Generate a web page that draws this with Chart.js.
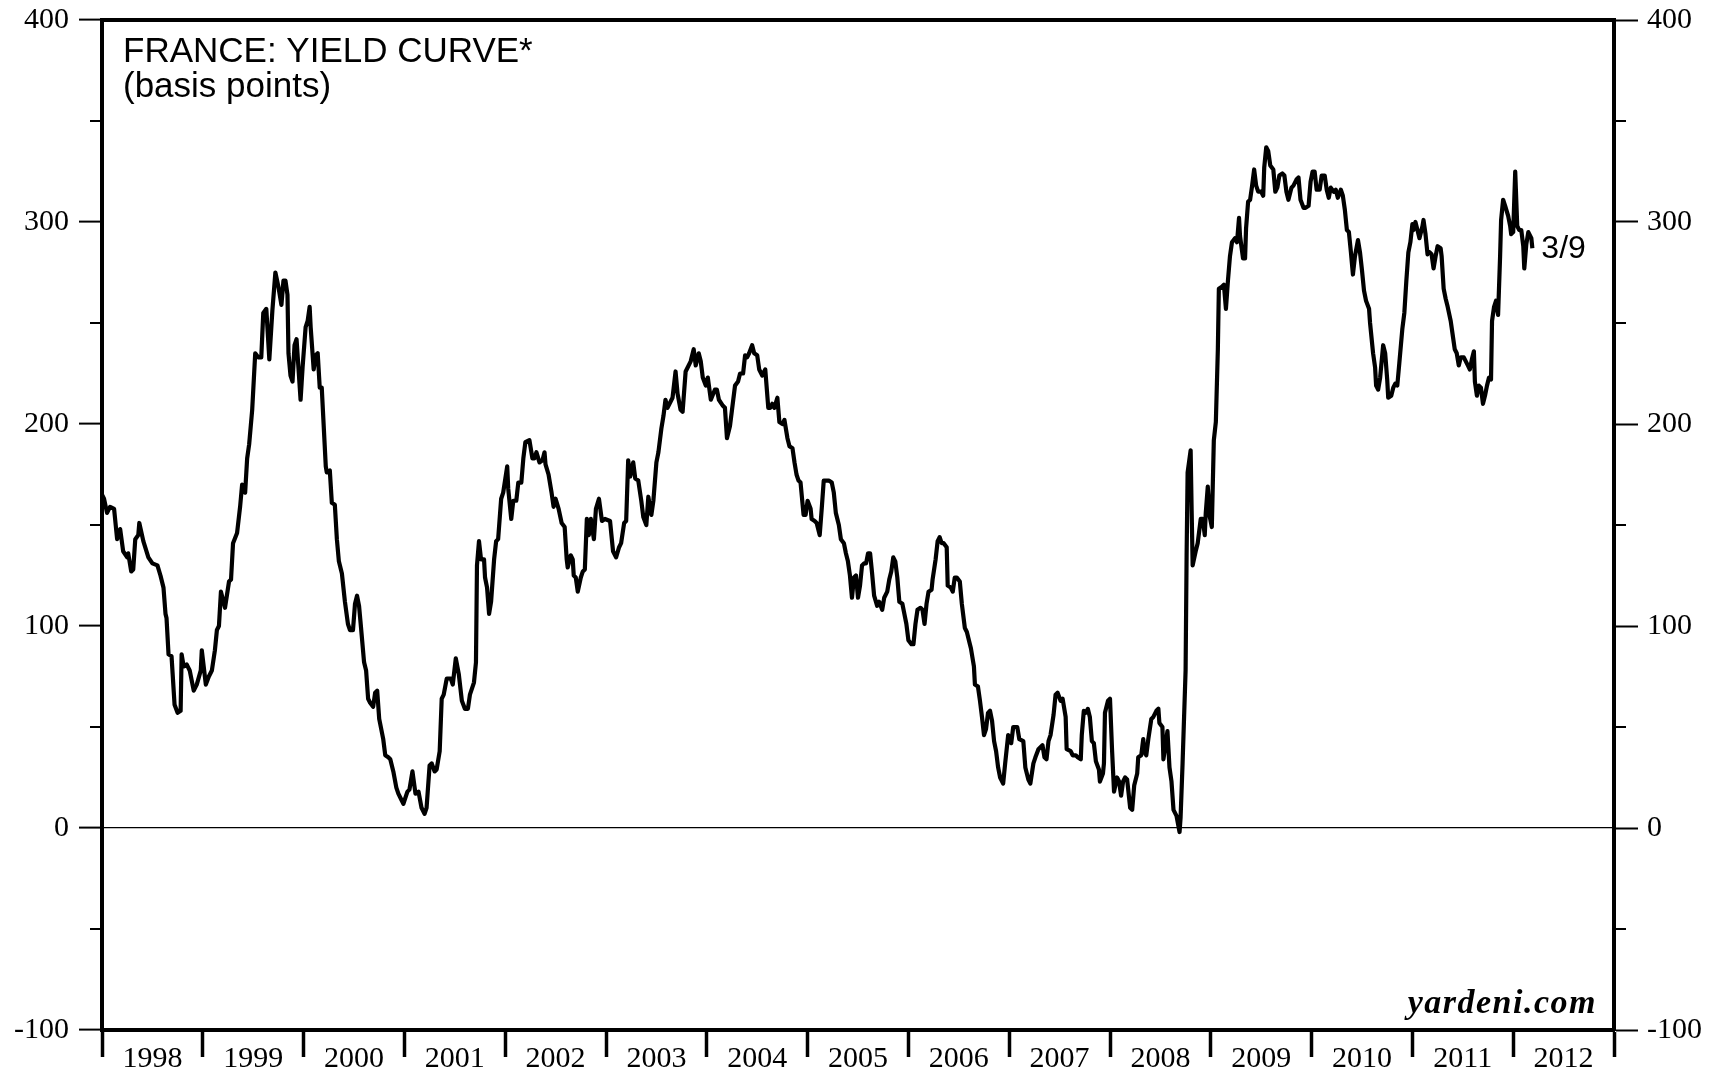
<!DOCTYPE html>
<html>
<head>
<meta charset="utf-8">
<title>France: Yield Curve</title>
<script src="https://cdn.jsdelivr.net/npm/chart.js@4.4.1/dist/chart.umd.min.js"></script>
<style>
  html, body { margin: 0; padding: 0; background: #fff; }
  #wrap { width: 1715px; height: 1076px; position: relative; }
</style>
</head>
<body>
<div id="wrap"><canvas id="chart"></canvas></div>
<script>
// year labels on the x axis
const years = [1998, 1999, 2000, 2001, 2002, 2003, 2004, 2005, 2006, 2007, 2008, 2009, 2010, 2011, 2012];

const dates = [
  1998.00,1998.02,1998.05,1998.08,1998.12,1998.15,1998.18,1998.21,1998.25,1998.26,1998.29,1998.31,1998.33,1998.36,1998.37,1998.41,1998.46,1998.50,1998.55,1998.58,1998.61,1998.63,1998.64,1998.66,1998.69,1998.72,1998.75,1998.78,1998.79,1998.81,1998.84,1998.87,1998.91,1998.94,1998.98,1998.99,
  1999.03,1999.06,1999.09,1999.12,1999.14,1999.16,1999.18,1999.22,1999.26,1999.28,1999.30,1999.34,1999.37,1999.39,1999.42,1999.44,1999.46,1999.49,1999.52,1999.55,1999.58,1999.60,1999.63,1999.66,1999.69,1999.72,1999.75,1999.78,1999.80,1999.82,1999.84,1999.85,1999.87,1999.89,1999.91,1999.93,1999.97,1999.99,
  2000.02,2000.04,2000.06,2000.07,2000.10,2000.12,2000.14,2000.16,2000.18,2000.22,2000.23,2000.26,2000.28,2000.31,2000.33,2000.35,2000.38,2000.41,2000.44,2000.46,2000.49,2000.51,2000.53,2000.55,2000.57,2000.60,2000.62,2000.64,2000.66,2000.69,2000.71,2000.73,2000.75,2000.79,2000.81,2000.84,2000.86,2000.89,2000.92,2000.94,2000.97,2000.99,
  2001.03,2001.05,2001.08,2001.11,2001.14,2001.17,2001.20,2001.22,2001.25,2001.27,2001.30,2001.32,2001.35,2001.37,2001.39,2001.42,2001.46,2001.48,2001.51,2001.54,2001.57,2001.60,2001.63,2001.65,2001.69,2001.71,2001.72,2001.74,2001.76,2001.79,2001.80,2001.82,2001.84,2001.86,2001.89,2001.91,2001.93,2001.96,2001.98,
  2002.02,2002.03,2002.06,2002.08,2002.11,2002.13,2002.16,2002.18,2002.20,2002.24,2002.27,2002.29,2002.31,2002.34,2002.37,2002.39,2002.40,2002.43,2002.46,2002.48,2002.50,2002.53,2002.56,2002.59,2002.61,2002.62,2002.65,2002.67,2002.68,2002.70,2002.72,2002.75,2002.77,2002.79,2002.81,2002.83,2002.85,2002.88,2002.90,2002.93,2002.96,2002.99,
  2003.04,2003.07,2003.10,2003.13,2003.15,2003.18,2003.20,2003.22,2003.24,2003.27,2003.29,2003.32,2003.35,2003.37,2003.40,2003.42,2003.45,2003.47,2003.50,2003.52,2003.55,2003.57,2003.59,2003.61,2003.64,2003.66,2003.69,2003.71,2003.74,2003.76,2003.79,2003.81,2003.84,2003.87,2003.89,2003.92,2003.94,2003.96,2003.99,
  2004.01,2004.04,2004.08,2004.10,2004.12,2004.16,2004.18,2004.20,2004.23,2004.26,2004.28,2004.31,2004.33,2004.36,2004.38,2004.40,2004.42,2004.45,2004.47,2004.50,2004.52,2004.55,2004.58,2004.61,2004.63,2004.65,2004.67,2004.70,2004.72,2004.75,2004.77,2004.80,2004.82,2004.85,2004.87,2004.89,2004.91,2004.93,2004.96,2004.98,
  2005.00,2005.03,2005.04,2005.07,2005.09,2005.12,2005.14,2005.16,2005.18,2005.21,2005.24,2005.26,2005.28,2005.31,2005.33,2005.36,2005.38,2005.40,2005.42,2005.44,2005.46,2005.48,2005.50,2005.52,2005.54,2005.56,2005.58,2005.60,2005.62,2005.64,2005.66,2005.69,2005.71,2005.74,2005.76,2005.79,2005.81,2005.83,2005.85,2005.87,2005.89,2005.91,2005.94,2005.96,2005.98,
  2006.00,2006.03,2006.05,2006.07,2006.09,2006.12,2006.14,2006.16,2006.18,2006.20,2006.23,2006.24,2006.27,2006.29,2006.31,2006.33,2006.35,2006.38,2006.39,2006.42,2006.44,2006.46,2006.48,2006.51,2006.53,2006.56,2006.58,2006.61,2006.62,2006.65,2006.66,2006.69,2006.71,2006.73,2006.75,2006.77,2006.79,2006.81,2006.83,2006.85,2006.87,2006.89,2006.91,2006.94,2006.96,2006.99,
  2007.02,2007.04,2007.08,2007.10,2007.14,2007.16,2007.19,2007.21,2007.24,2007.26,2007.29,2007.33,2007.35,2007.37,2007.39,2007.41,2007.44,2007.46,2007.48,2007.51,2007.53,2007.56,2007.57,2007.61,2007.63,2007.66,2007.68,2007.71,2007.72,2007.74,2007.76,2007.78,2007.80,2007.82,2007.84,2007.86,2007.89,2007.90,2007.93,2007.94,2007.95,2007.98,
  2008.00,2008.02,2008.04,2008.07,2008.09,2008.11,2008.13,2008.15,2008.17,2008.20,2008.22,2008.24,2008.27,2008.28,2008.31,2008.33,2008.34,2008.36,2008.38,2008.41,2008.43,2008.46,2008.48,2008.49,2008.52,2008.53,2008.55,2008.57,2008.59,2008.61,2008.63,2008.65,2008.66,2008.69,2008.70,2008.72,2008.75,2008.76,2008.77,2008.80,2008.81,2008.82,2008.85,2008.87,2008.90,2008.92,2008.94,2008.95,2008.97,2008.99,
  2009.01,2009.03,2009.05,2009.07,2009.08,2009.11,2009.13,2009.15,2009.17,2009.19,2009.21,2009.24,2009.26,2009.28,2009.29,2009.32,2009.34,2009.35,2009.37,2009.39,2009.41,2009.43,2009.45,2009.47,2009.50,2009.52,2009.53,2009.55,2009.57,2009.59,2009.62,2009.64,2009.66,2009.68,2009.71,2009.73,2009.75,2009.77,2009.80,2009.82,2009.85,2009.87,2009.89,2009.92,2009.94,2009.97,2009.99,
  2010.01,2010.03,2010.05,2010.08,2010.10,2010.13,2010.15,2010.17,2010.19,2010.22,2010.24,2010.26,2010.29,2010.31,2010.33,2010.35,2010.37,2010.39,2010.41,2010.43,2010.46,2010.48,2010.50,2010.52,2010.54,2010.57,2010.58,2010.61,2010.63,2010.64,2010.66,2010.68,2010.71,2010.73,2010.75,2010.76,2010.79,2010.81,2010.83,2010.85,2010.87,2010.90,2010.92,2010.94,2010.96,2010.98,
  2011.00,2011.01,2011.03,2011.05,2011.07,2011.10,2011.11,2011.13,2011.15,2011.17,2011.19,2011.21,2011.23,2011.25,2011.28,2011.29,2011.31,2011.33,2011.35,2011.38,2011.40,2011.42,2011.44,2011.46,2011.48,2011.51,2011.53,2011.55,2011.57,2011.59,2011.61,2011.62,2011.64,2011.66,2011.68,2011.70,2011.72,2011.74,2011.76,2011.78,2011.79,2011.81,2011.83,2011.85,2011.87,2011.88,2011.90,2011.92,2011.95,2011.97,2011.98,
  2012.00,2012.02,2012.04,2012.06,2012.08,2012.10,2012.11,2012.13,2012.15,2012.18,2012.19
];

// yield curve spread, basis points
const spread = [
  165,163,156,159,158,143,148,137,134,136,127,128,143,145,151,142,134,131,130,125,119,106,104,86,85,61,57,58,86,80,81,78,68,71,78,88,
  71,75,78,88,98,100,117,109,122,123,141,146,159,170,166,183,190,207,235,233,233,255,257,232,256,275,268,259,271,271,264,235,224,221,239,242,212,228,
  248,251,258,248,227,234,235,218,218,179,176,177,161,160,143,132,126,112,101,98,98,111,115,110,99,82,78,64,62,60,67,68,54,44,36,35,34,28,20,17,14,12,
  18,19,28,17,18,10,7,10,31,32,28,29,38,64,66,74,74,71,84,76,63,59,59,66,72,82,130,142,133,133,124,119,106,112,133,142,143,163,166,
  179,168,153,162,162,171,171,183,191,192,183,183,186,181,182,186,180,175,166,159,163,158,151,149,133,129,135,133,125,124,117,124,127,128,153,145,153,143,158,163,152,153,
  152,137,134,139,141,151,152,182,174,181,173,172,162,154,150,164,155,162,181,186,198,204,212,208,211,213,226,215,207,206,226,228,231,237,229,235,231,223,219,
  223,212,217,217,212,209,208,193,199,211,219,221,225,225,234,233,235,239,235,234,227,224,227,208,208,210,208,213,201,200,202,193,189,188,181,175,172,171,155,155,
  162,158,153,152,151,145,158,172,172,172,171,166,156,150,143,141,136,132,125,114,124,125,114,120,130,131,131,136,136,126,115,110,112,108,114,117,123,127,134,132,124,112,111,106,101,
  93,91,91,101,108,109,108,101,111,117,118,123,133,142,144,141,141,139,120,119,117,124,124,122,111,99,97,91,89,80,71,70,63,55,46,49,57,58,53,43,38,30,25,22,32,46,
  42,50,50,44,43,30,24,22,32,35,39,41,35,34,43,46,56,66,67,63,64,55,39,38,36,36,35,34,46,58,57,59,55,43,42,33,29,23,27,32,57,63,
  64,39,18,25,23,16,23,25,24,10,9,21,27,35,36,44,38,36,44,54,55,58,59,52,50,34,41,48,30,23,9,7,6,-2,5,32,78,135,176,187,157,130,137,141,153,153,145,156,169,154,
  149,192,201,237,267,268,269,257,271,283,290,292,290,302,293,282,282,297,310,311,318,326,318,315,315,313,327,337,335,328,326,315,317,323,324,323,315,311,317,318,321,322,311,307,307,308,320,
  325,325,316,316,323,323,316,312,317,315,316,312,316,313,306,296,295,285,274,283,291,285,276,266,261,257,250,235,228,219,217,223,239,235,222,213,214,218,220,219,230,247,255,271,285,290,
  299,296,300,296,292,298,301,294,284,285,284,277,283,288,287,283,267,262,258,251,244,237,235,229,233,233,231,229,227,232,236,221,214,219,218,210,214,219,223,222,251,258,261,254,283,301,311,308,303,298,294,
  295,325,298,296,296,288,277,289,295,292,287
];

const yMin = -100;
const yMax = 400;
const titleLines = ['FRANCE: YIELD CURVE*', '(basis points)'];
const lastLabel = '3/9';
const source = 'yardeni.com';

const serif = '"Liberation Serif", "Times New Roman", serif';
const sans = '"Liberation Sans", Arial, sans-serif';

// pin the axis boxes so the plot frame lands where the original has it
function fixWidth(w) {
  return scale => {
    scale.width = w;
    scale.paddingTop = 0;
    scale.paddingBottom = 0;
  };
}
function fixHeight(h) { return scale => { scale.height = h; }; }

// short ticks halfway between the labelled ones
const minorTicks = {
  id: 'minorTicks',
  afterDraw(chart) {
    const ctx = chart.ctx;
    const area = chart.chartArea;
    ctx.save();
    ctx.strokeStyle = '#000';
    ctx.lineWidth = 2;
    [['y', -1], ['y2', 1]].forEach(([id, dir]) => {
      const s = chart.scales[id];
      const x0 = dir < 0 ? area.left : area.right;
      for (let v = s.min + 50; v < s.max; v += 100) {
        const py = s.getPixelForValue(v);
        ctx.beginPath();
        ctx.moveTo(x0, py);
        ctx.lineTo(x0 + dir * 12, py);
        ctx.stroke();
      }
    });
    ctx.restore();
  }
};

const annotations = {
  id: 'annotations',
  afterDraw(chart) {
    const ctx = chart.ctx;
    const area = chart.chartArea;
    ctx.save();
    ctx.fillStyle = '#000';
    ctx.textAlign = 'left';
    ctx.textBaseline = 'alphabetic';
    ctx.font = '35px ' + sans;
    ctx.fillText(titleLines[0], area.left + 21, area.top + 42);
    ctx.fillText(titleLines[1], area.left + 21, area.top + 77);

    const pts = chart.getDatasetMeta(0).data;
    const last = pts[pts.length - 1];
    ctx.font = '32px ' + sans;
    ctx.textBaseline = 'middle';
    ctx.fillText(lastLabel, last.x + 9, last.y + 1);

    ctx.font = 'italic bold 34px ' + serif;
    ctx.letterSpacing = '1.5px';
    ctx.textAlign = 'right';
    ctx.textBaseline = 'alphabetic';
    ctx.fillText(source, area.right - 17, area.bottom - 17);
    ctx.restore();
  }
};

const xMin = years[0];
const xMax = years[years.length - 1] + 1;

new Chart(document.getElementById('chart'), {
  type: 'line',
  data: {
    datasets: [{
      data: dates.map((d, i) => ({ x: d, y: spread[i] })),
      borderColor: '#000',
      borderWidth: 4.2,
      pointRadius: 0,
      tension: 0,
      borderJoinStyle: 'round'
    }]
  },
  options: {
    responsive: true,
    maintainAspectRatio: false,
    animation: false,
    events: [],
    layout: { padding: 0 },
    plugins: {
      legend: { display: false },
      tooltip: { enabled: false }
    },
    scales: {
      x: {
        type: 'linear',
        position: 'bottom',
        min: xMin,
        max: xMax,
        afterBuildTicks: scale => {
          const t = [];
          years.forEach(y => { t.push({ value: y }); t.push({ value: y + 0.5 }); });
          t.push({ value: xMax });
          scale.ticks = t;
        },
        afterFit: fixHeight(46),
        grid: {
          drawOnChartArea: false,
          tickLength: 27,
          tickWidth: 3.5,
          tickColor: c => (c.tick && c.tick.value % 1 === 0) ? '#000' : 'rgba(0,0,0,0)'
        },
        border: { color: '#000', width: 4 },
        ticks: {
          autoSkip: false,
          maxRotation: 0,
          padding: -16,
          color: '#000',
          font: { family: serif, size: 30 },
          callback: v => (v % 1) ? String(Math.floor(v)) : ''
        }
      },
      xTop: {
        type: 'linear',
        position: 'top',
        min: xMin,
        max: xMax,
        afterFit: fixHeight(20),
        ticks: { display: false },
        grid: { drawOnChartArea: false, drawTicks: false },
        border: { color: '#000', width: 4 }
      },
      y: {
        position: 'left',
        min: yMin,
        max: yMax,
        afterFit: fixWidth(102),
        ticks: { stepSize: 100, padding: 10, color: '#000', font: { family: serif, size: 30 } },
        grid: {
          color: c => (c.tick && c.tick.value === 0) ? '#000' : 'rgba(0,0,0,0)',
          lineWidth: 1.2,
          tickColor: '#000',
          tickLength: 23,
          tickWidth: 2
        },
        border: { color: '#000', width: 4 }
      },
      y2: {
        position: 'right',
        min: yMin,
        max: yMax,
        afterFit: fixWidth(101),
        ticks: { stepSize: 100, padding: 9, color: '#000', font: { family: serif, size: 30 } },
        grid: {
          drawOnChartArea: false,
          tickColor: '#000',
          tickLength: 24,
          tickWidth: 2
        },
        border: { color: '#000', width: 4 }
      }
    }
  },
  plugins: [minorTicks, annotations]
});
</script>
</body>
</html>
